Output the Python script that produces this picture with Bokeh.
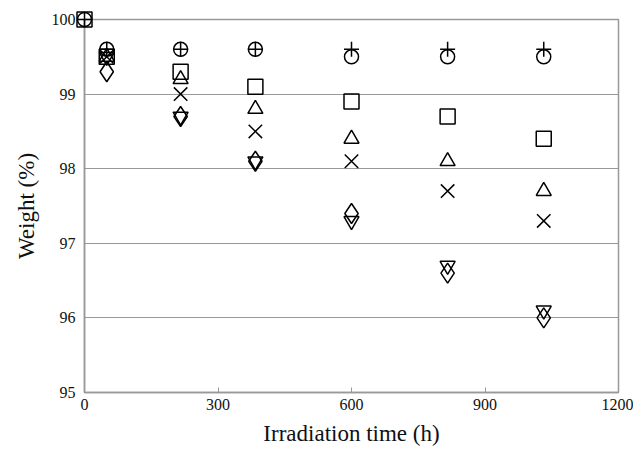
from bokeh.plotting import figure
from bokeh.models import Range1d, FixedTicker
from bokeh.embed import file_html
from bokeh.resources import INLINE

nan = float("nan")
time_h = [0, 50, 216, 384, 600, 816, 1032]
s_plus = [100, 99.6, 99.6, 99.6, 99.6, 99.6, 99.6]
s_circle = [100, 99.6, 99.6, 99.6, 99.5, 99.5, 99.5]
s_square = [100, 99.5, 99.3, 99.1, 98.9, 98.7, 98.4]
s_triangle = [nan, 99.5, 99.2, 98.8, 98.4, 98.1, 97.7]
s_cross = [nan, 99.5, 99.0, 98.5, 98.1, 97.7, 97.3]
s_diamond = [nan, 99.3, 98.7, 98.1, 97.4, 96.6, 96.0]
s_invtri = [nan, 99.5, 98.7, 98.1, 97.3, 96.7, 96.1]
x_ticks = [0, 300, 600, 900, 1200]
y_ticks = [95, 96, 97, 98, 99, 100]

FONT = "Liberation Serif"
GRAY = "#999999"

p = figure(width=633, height=450, output_backend="svg", toolbar_location=None,
           x_range=Range1d(0, 1200), y_range=Range1d(95, 100),
           min_border_left=84, min_border_right=15, min_border_top=19, min_border_bottom=58)
p.background_fill_color = "white"
p.border_fill_color = "white"
p.outline_line_color = GRAY
p.outline_line_width = 1.5

p.xgrid.visible = False
p.ygrid.ticker = FixedTicker(ticks=y_ticks)
p.ygrid.grid_line_color = GRAY
p.ygrid.grid_line_width = 1.2

p.xaxis.ticker = FixedTicker(ticks=x_ticks)
p.yaxis.ticker = FixedTicker(ticks=y_ticks)
for ax in (p.xaxis, p.yaxis):
    ax.axis_line_color = GRAY
    ax.axis_line_width = 1.5
    ax.major_tick_line_color = GRAY
    ax.minor_tick_line_color = None
    ax.major_label_text_font = FONT
    ax.major_label_text_font_size = "16px"
    ax.major_label_text_color = "#111111"
    ax.axis_label_text_font = FONT
    ax.axis_label_text_font_size = "23px"
    ax.axis_label_text_font_style = "normal"
    ax.axis_label_text_color = "#111111"
p.xaxis.major_tick_in = 5
p.xaxis.major_tick_out = 0
p.yaxis.major_tick_in = 0
p.yaxis.major_tick_out = 0
p.xaxis.major_label_standoff = 6
p.yaxis.major_label_standoff = 9
p.xaxis.axis_label = "Irradiation time (h)"
p.yaxis.axis_label = "Weight (%)"
p.xaxis.axis_label_standoff = 8
p.yaxis.axis_label_standoff = 10

kw = dict(fill_color=None, line_color="black", line_width=1.5, level="overlay")
p.scatter(time_h, s_circle, marker="circle", size=14, **kw)
p.scatter(time_h, s_plus, marker="cross", size=15, **kw)
p.scatter(time_h, s_square, marker="square", size=15, **kw)
p.scatter(time_h, s_triangle, marker="triangle", size=15, **kw)
p.scatter(time_h, s_cross, marker="x", size=19, **kw)
p.scatter(time_h, s_diamond, marker="diamond", size=20, **kw)
p.scatter(time_h, s_invtri, marker="inverted_triangle", size=15, **kw)

open("out.html", "w").write(file_html(p, INLINE))
